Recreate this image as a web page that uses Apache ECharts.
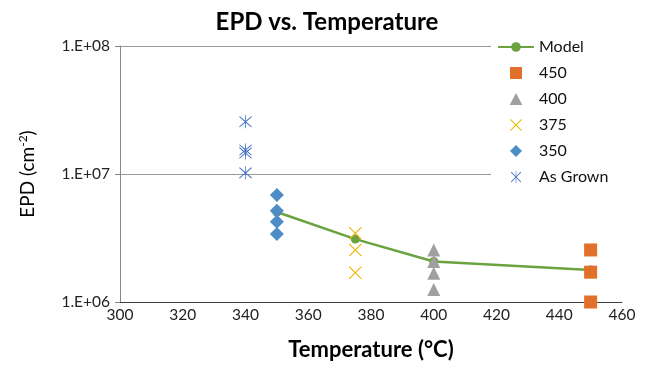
<!DOCTYPE html>
<html>
<head>
<meta charset="utf-8">
<script src="https://cdn.jsdelivr.net/npm/echarts@6/dist/echarts.min.js"></script>
<style>html,body{margin:0;padding:0;background:#fff;}#c{width:651px;height:367px;}</style>
</head>
<body>
<div id="c"></div>
<script>
// ---- data ----
const xTicks = [300, 320, 340, 360, 380, 400, 420, 440, 460];
const yTicks = [1e6, 1e7, 1e8];
const modelTemp = [350, 375, 400, 450];
const modelEPD = [5.05e6, 3.1e6, 2.07e6, 1.78e6];
const t450 = [450, 450, 450];
const epd450 = [2.55e6, 1.71e6, 1.0e6];
const t400 = [400, 400, 400, 400];
const epd400 = [2.55e6, 2.07e6, 1.68e6, 1.25e6];
const t375 = [375, 375, 375];
const epd375 = [3.44e6, 2.55e6, 1.69e6];
const t350 = [350, 350, 350, 350];
const epd350 = [6.85e6, 5.17e6, 4.24e6, 3.40e6];
const tAsGrown = [340, 340, 340, 340];
const epdAsGrown = [2.56e7, 1.54e7, 1.46e7, 1.02e7];

const pairs = (xs, ys) => xs.map((x, i) => [x, ys[i]]);
const FONT = 'Lato, "Open Sans", sans-serif';
const rectPath = 'path://M0,0 L100,0 L100,100 L0,100 Z';
const triPath = 'path://M50,0 L100,95 L0,95 Z';
const diaPath = 'path://M50,0 L100,50 L50,100 L0,50 Z';
const xPath = 'path://M0,6 L6,0 L50,44 L94,0 L100,6 L56,50 L100,94 L94,100 L50,56 L6,100 L0,94 L44,50 Z';
const starPath = 'path://M0,6 L6,0 L50,44 L94,0 L100,6 L56,50 L100,94 L94,100 L50,56 L6,100 L0,94 L44,50 Z M47,-8 L53,-8 L53,108 L47,108 Z';

const chart = echarts.init(document.getElementById('c'), null, {renderer: 'canvas'});
chart.setOption({
  animation: false,
  backgroundColor: '#fff',
  textStyle: {fontFamily: FONT},
  title: {
    text: 'EPD vs. Temperature',
    left: 322, top: 5, textAlign: 'center',
    textStyle: {fontFamily: FONT, fontSize: 24, fontWeight: 'bold', color: '#000'}
  },
  grid: {left: 120, right: 29, top: 46, bottom: 65},
  legend: {
    orient: 'vertical',
    left: 491, top: 33,
    padding: [5, 22, 6, 6],
    backgroundColor: '#fff',
    itemWidth: 36, itemHeight: 12, itemGap: 8,
    symbolKeepAspect: true,
    textStyle: {fontFamily: FONT, fontSize: 16, color: '#111', lineHeight: 18},
    data: ['Model', '450', '400', '375', '350', 'As Grown']
  },
  xAxis: {
    type: 'value', min: xTicks[0], max: xTicks[xTicks.length - 1], interval: xTicks[1] - xTicks[0],
    name: 'Temperature (°C)', nameLocation: 'middle', nameGap: 37,
    nameTextStyle: {fontFamily: FONT, fontSize: 22, fontWeight: 'bold', color: '#000'},
    axisLine: {show: true, lineStyle: {color: '#404040', width: 1}},
    axisTick: {show: false},
    splitLine: {show: false},
    axisLabel: {fontFamily: FONT, fontSize: 15.5, color: '#222', margin: 5}
  },
  yAxis: {
    type: 'log', logBase: 10, min: yTicks[0], max: yTicks[yTicks.length - 1],
    name: '{a|EPD (cm}{s|-2}{a|)}', nameLocation: 'middle', nameGap: 82, nameRotate: 90,
    nameTextStyle: {
      fontFamily: FONT, fontSize: 19, color: '#000',
      rich: {
        a: {fontFamily: FONT, fontSize: 19, color: '#000', lineHeight: 21},
        s: {fontFamily: FONT, fontSize: 12, color: '#000', lineHeight: 21, verticalAlign: 'top', padding: [0, 0, 9, 0]}
      }
    },
    axisLine: {show: true, lineStyle: {color: '#888', width: 1}},
    axisTick: {show: true, inside: false, length: 5, lineStyle: {color: '#888'}},
    splitLine: {show: true, lineStyle: {color: '#999', width: 1}},
    axisLabel: {
      fontFamily: FONT, fontSize: 15.5, color: '#222', margin: 10,
      formatter: v => {
        const e = Math.round(Math.log10(v));
        return '1.E+' + (e < 10 ? '0' : '') + e;
      }
    }
  },
  series: [
    {
      name: 'Model', type: 'line', data: pairs(modelTemp, modelEPD), z: 1,
      symbol: 'circle', symbolSize: 9,
      lineStyle: {color: '#6AA33F', width: 2.5},
      itemStyle: {color: '#6AA33F', opacity: 1}
    },
    {
      name: '450', type: 'scatter', data: pairs(t450, epd450), z: 3,
      symbol: rectPath, symbolSize: 13, itemStyle: {color: '#E0702A', opacity: 1}
    },
    {
      name: '400', type: 'scatter', data: pairs(t400, epd400), z: 3,
      symbol: triPath, symbolSize: 13, itemStyle: {color: '#A0A0A0', opacity: 1}
    },
    {
      name: '375', type: 'scatter', data: pairs(t375, epd375), z: 3,
      symbol: xPath, symbolSize: 13, itemStyle: {color: '#F0B400', opacity: 1}
    },
    {
      name: '350', type: 'scatter', data: pairs(t350, epd350), z: 3,
      symbol: diaPath, symbolSize: 14, itemStyle: {color: '#4E8CC6', opacity: 1}
    },
    {
      name: 'As Grown', type: 'scatter', data: pairs(tAsGrown, epdAsGrown), z: 3,
      symbol: starPath, symbolSize: 13, itemStyle: {color: '#4472C4', opacity: 1}
    }
  ]
});
</script>
</body>
</html>
